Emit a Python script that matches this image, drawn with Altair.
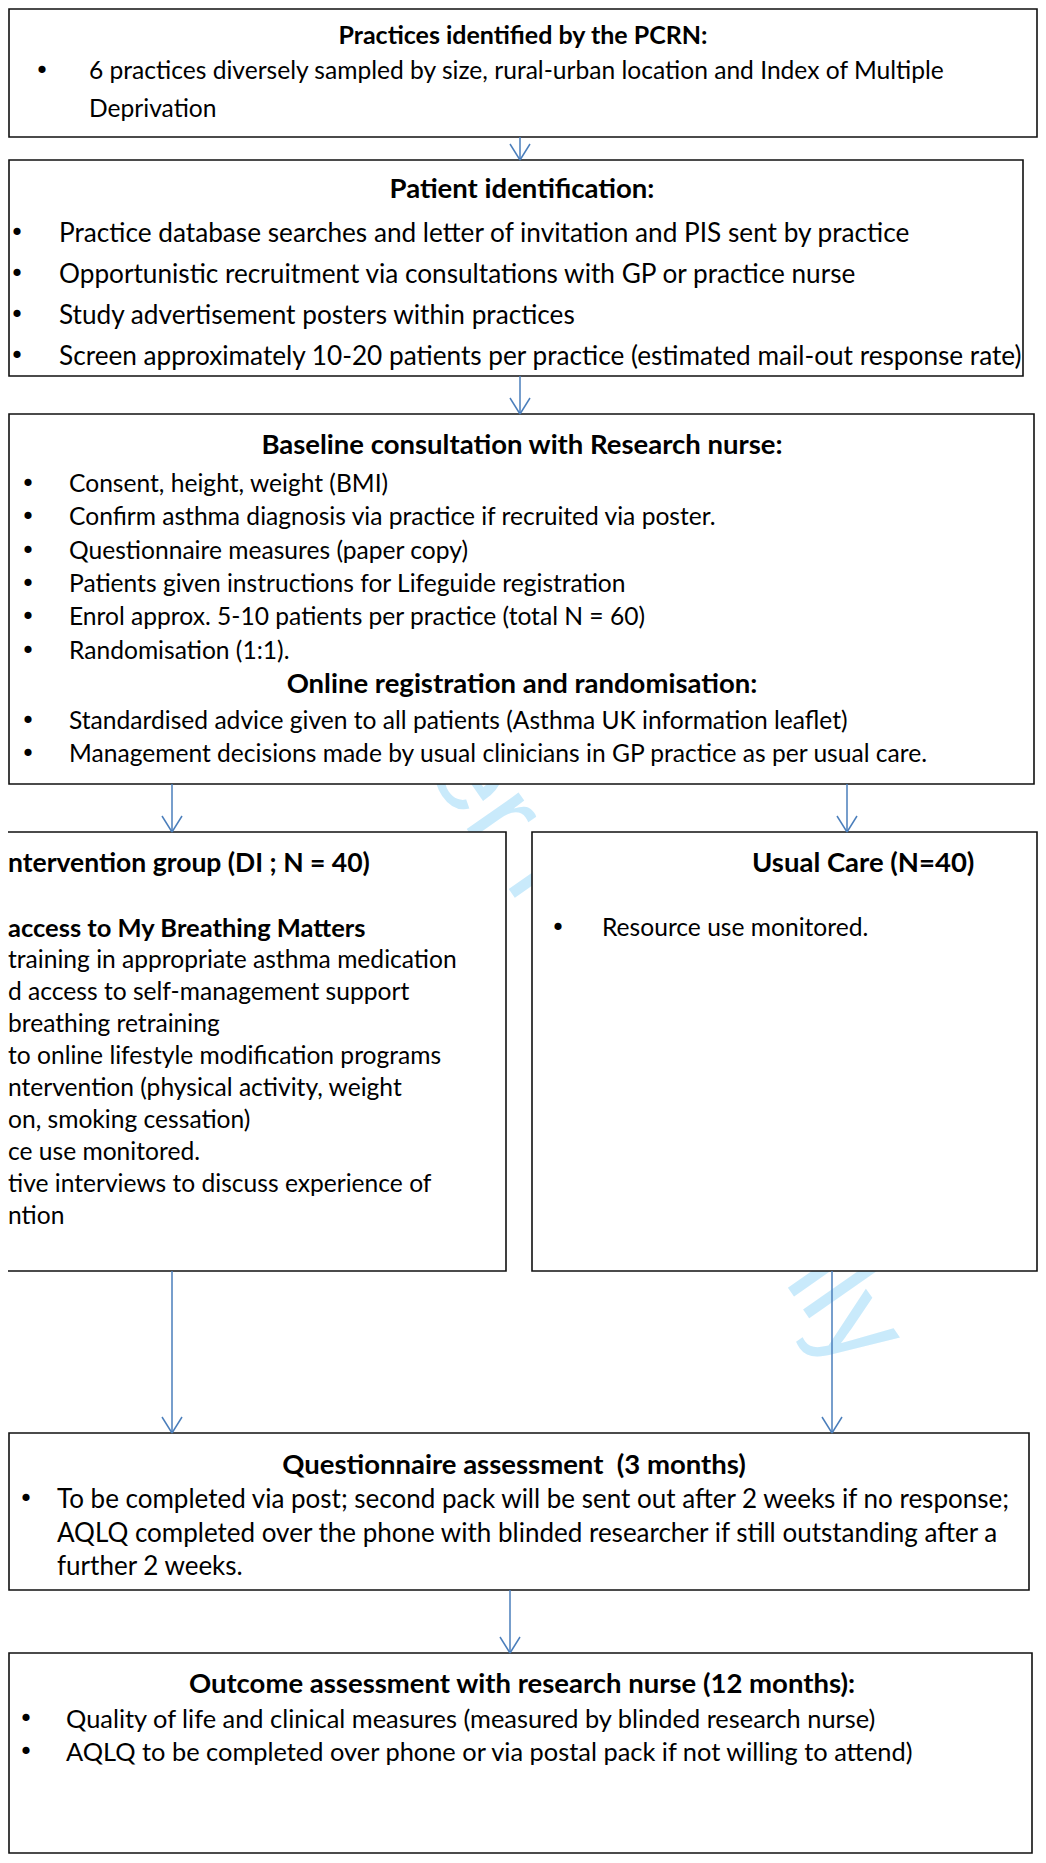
import altair as alt
import pandas as pd

# ---------------- text content ----------------
box1_title = "Practices identified by the PCRN:"
box1_lines = ["6 practices diversely sampled by size, rural-urban location and Index of Multiple",
              "Deprivation"]
box2_title = "Patient identification:"
box2_items = ["Practice database searches and letter of invitation and PIS sent by practice",
              "Opportunistic recruitment via consultations with GP or practice nurse",
              "Study advertisement posters within practices",
              "Screen approximately 10-20 patients per practice (estimated mail-out response rate)"]
box3_title = "Baseline consultation with Research nurse:"
box3_items = ["Consent, height, weight (BMI)",
              "Confirm asthma diagnosis via practice if recruited via poster.",
              "Questionnaire measures (paper copy)",
              "Patients given instructions for Lifeguide registration",
              "Enrol approx. 5-10 patients per practice (total N = 60)",
              "Randomisation (1:1)."]
box3_subtitle = "Online registration and randomisation:"
box3_sub_items = ["Standardised advice given to all patients (Asthma UK information leaflet)",
                  "Management decisions made by usual clinicians in GP practice as per usual care."]
di_title = "ntervention group (DI ; N = 40)"
di_heading = "access to My Breathing Matters"
di_lines = ["training in appropriate asthma medication",
            "d access to self-management support",
            "breathing retraining",
            "to online lifestyle modification programs",
            "ntervention (physical activity, weight",
            "on, smoking cessation)",
            "ce use monitored.",
            "tive interviews to discuss experience of",
            "ntion"]
uc_title = "Usual Care (N=40)"
uc_items = ["Resource use monitored."]
q_title = "Questionnaire assessment \u00a0(3 months)"
q_lines = ["To be completed via post; second pack will be sent out after 2 weeks if no response;",
           "AQLQ completed over the phone with blinded researcher if still outstanding after a",
           "further 2 weeks."]
o_title = "Outcome assessment with research nurse (12 months):"
o_items = ["Quality of life and clinical measures (measured by blinded research nurse)",
           "AQLQ to be completed over phone or via postal pack if not willing to attend)"]
watermark = "For peer review only"

# ---------------- layout (page pixel coordinates) ----------------
box_x1 = [9, 9, 9, -20, 532, 9, 9]
box_x2 = [1037, 1023, 1034, 506, 1037, 1029, 1032]
box_y1 = [9, 160, 414, 832, 832, 1433, 1653]
box_y2 = [137, 376, 784, 1271, 1271, 1590, 1853]

arrow_x = [520, 520, 172, 847, 172, 832, 510]
arrow_y1 = [137, 376, 784, 784, 1271, 1271, 1590]
arrow_y2 = [160, 414, 832, 832, 1433, 1433, 1653]

# font sizes
FS1, FS2, FS3, FSD, FSQ, FSO = 24.6, 26.2, 24.6, 24.6, 26.0, 25.4
FSB1, FSB = 25.0, 27.5

center_titles = [box1_title, box2_title, box3_title, box3_subtitle, q_title, o_title]
center_x = [523, 522, 522, 522, 514, 522]
center_y = [36, 190, 446, 685, 1466, 1685]
center_fs = [FSB1, FSB, FSB, FSB, FSB, FSB]

left_bold = [di_title, di_heading, uc_title]
left_bold_x = [8, 8, 752]
left_bold_y = [864, 929, 864]
left_bold_fs = [26.5, 25.5, FSB]

di_y = [961 + 32 * i for i in range(len(di_lines))]
plain = (box1_lines + box2_items + box3_items + box3_sub_items + di_lines + uc_items + q_lines + o_items)
plain_x = ([89] * 2 + [59] * 4 + [69] * 6 + [69] * 2 + [8] * 9 + [602] + [57] * 3 + [66] * 2)
plain_y = ([72, 110] + [234, 275, 316, 357] + [485, 518, 552, 585, 618, 652] + [722, 755]
           + di_y + [929] + [1500, 1534, 1567] + [1720, 1753])
plain_fs = ([FS1] * 2 + [FS2] * 4 + [FS3] * 8 + [FSD] * 9 + [FSD] + [FSQ] * 3 + [FSO] * 2)

bullet_x = [42] + [17] * 4 + [28] * 8 + [558] + [26] + [26] * 2
bullet_y = ([72] + [234, 275, 316, 357] + [485, 518, 552, 585, 618, 652, 722, 755]
            + [929] + [1500] + [1720, 1753])

wm_x, wm_y = [566], [908]

# ---------------- styles ----------------
FONT = "Lato"
ARROW = "#4a7ebb"
HEAD_W, HEAD_H = 10, 16

W, H = 1030, 1847
xs = alt.Scale(domain=[8, 1038], nice=False, zero=False)
ys = alt.Scale(domain=[8, 1855], nice=False, zero=False, reverse=True)

def X(f):
    return alt.X(f"{f}:Q", scale=xs, axis=None)

def Y(f):
    return alt.Y(f"{f}:Q", scale=ys, axis=None)

SIZE = alt.Size("fs:Q", scale=None, legend=None)

boxes = pd.DataFrame({"x1": box_x1, "x2": box_x2, "y1": box_y1, "y2": box_y2})
arrows = pd.DataFrame({"x": arrow_x, "y1": arrow_y1, "y2": arrow_y2})
heads = pd.concat([
    pd.DataFrame({"x": arrows.x - HEAD_W, "x2": arrows.x, "y": arrows.y2 - HEAD_H, "y2": arrows.y2}),
    pd.DataFrame({"x": arrows.x + HEAD_W, "x2": arrows.x, "y": arrows.y2 - HEAD_H, "y2": arrows.y2}),
])
ctitles = pd.DataFrame({"text": center_titles, "x": center_x, "y": center_y, "fs": center_fs})
lbold = pd.DataFrame({"text": left_bold, "x": left_bold_x, "y": left_bold_y, "fs": left_bold_fs})
plain_df = pd.DataFrame({"text": plain, "x": plain_x, "y": plain_y, "fs": plain_fs})
bullets = pd.DataFrame({"text": ["\u2022"] * len(bullet_x), "x": bullet_x, "y": bullet_y})
wm = pd.DataFrame({"text": [watermark], "x": wm_x, "y": wm_y})

wm_layer = alt.Chart(wm).mark_text(angle=55, align="center", baseline="middle",
                                   font="Liberation Sans", fontSize=120, color="#c9eafb",
                                   clip=True).encode(x=X("x"), y=Y("y"), text="text:N")
box_layer = alt.Chart(boxes).mark_rect(fill="white", stroke="#111111", strokeWidth=1.6,
                                       clip=True).encode(x=X("x1"), x2="x2:Q", y=Y("y1"), y2="y2:Q")
shaft_layer = alt.Chart(arrows).mark_rule(color=ARROW, strokeWidth=1.5).encode(
    x=X("x"), y=Y("y1"), y2="y2:Q")
head_layer = alt.Chart(heads).mark_rule(color=ARROW, strokeWidth=1.5).encode(
    x=X("x"), x2="x2:Q", y=Y("y"), y2="y2:Q")
ct_layer = alt.Chart(ctitles).mark_text(align="center", baseline="middle", font=FONT,
                                        fontWeight="bold", color="black", clip=True).encode(
    x=X("x"), y=Y("y"), text="text:N", size=SIZE)
lb_layer = alt.Chart(lbold).mark_text(align="left", baseline="middle", font=FONT,
                                      fontWeight="bold", color="black", clip=True).encode(
    x=X("x"), y=Y("y"), text="text:N", size=SIZE)
pl_layer = alt.Chart(plain_df).mark_text(align="left", baseline="middle", font=FONT,
                                         color="black", clip=True).encode(
    x=X("x"), y=Y("y"), text="text:N", size=SIZE)
bu_layer = alt.Chart(bullets).mark_text(align="center", baseline="middle", font="DejaVu Sans",
                                        fontSize=24.6, color="black",
                                        clip=True).encode(x=X("x"), y=Y("y"), text="text:N")

chart = alt.layer(wm_layer, box_layer, shaft_layer, head_layer, ct_layer, lb_layer,
                  pl_layer, bu_layer).properties(
    width=W, height=H, autosize=alt.AutoSizeParams(type="none"), padding=0,
    background="white",
).configure_view(stroke=None)

chart.save("out.html", embed_options={"renderer": "svg", "actions": False})
